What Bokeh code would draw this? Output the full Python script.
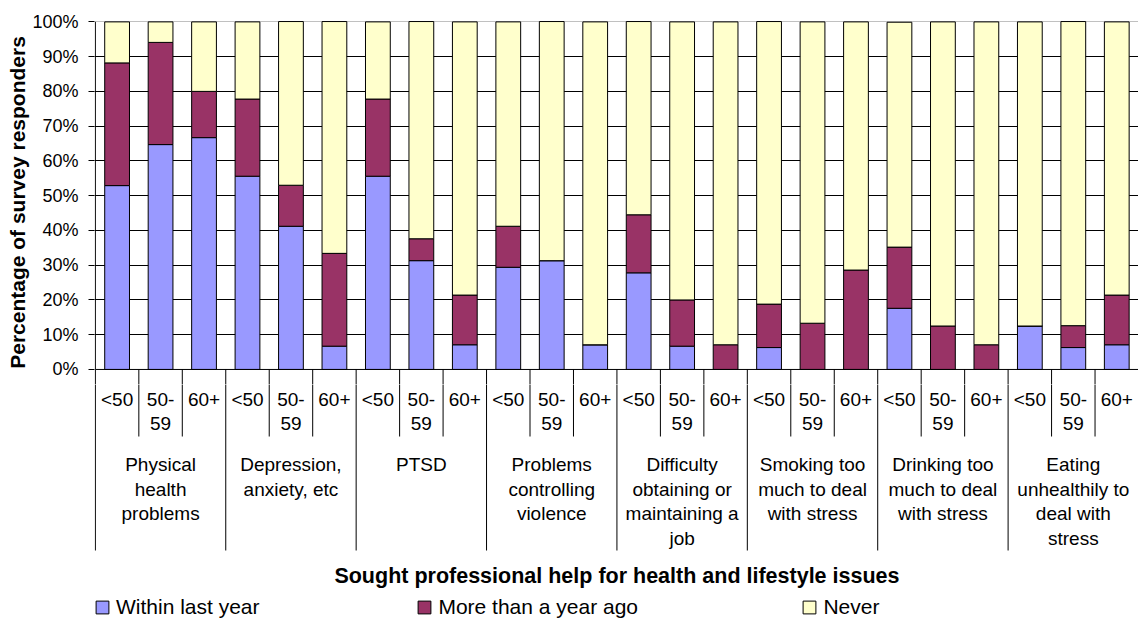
from bokeh.plotting import figure
from bokeh.layouts import column
from bokeh.models import (ColumnDataSource, Range1d, FixedTicker, PrintfTickFormatter,
                          Grid, Legend, LegendItem)
from bokeh.core.properties import value
from bokeh.embed import file_html
from bokeh.resources import INLINE

# ---------------- data ----------------
groups = [
    "Physical\nhealth\nproblems",
    "Depression,\nanxiety, etc",
    "PTSD",
    "Problems\ncontrolling\nviolence",
    "Difficulty\nobtaining or\nmaintaining a\njob",
    "Smoking too\nmuch to deal\nwith stress",
    "Drinking too\nmuch to deal\nwith stress",
    "Eating\nunhealthily to\ndeal with\nstress",
]
ages = ["<50", "50-59", "60+"]
series_names = ["Within last year", "More than a year ago", "Never"]
within = [52.9, 64.7, 66.7, 55.6, 41.2, 6.7, 55.6, 31.3, 7.1, 29.4, 31.3, 7.1,
          27.8, 6.7, 0.0, 6.3, 0.0, 0.0, 17.6, 0.0, 0.0, 12.5, 6.3, 7.1]
more = [35.3, 29.4, 13.3, 22.2, 11.8, 26.7, 22.2, 6.3, 14.3, 11.8, 0.0, 0.0,
        16.7, 13.3, 7.1, 12.5, 13.3, 28.6, 17.6, 12.5, 7.1, 0.0, 6.3, 14.3]
never = [11.8, 5.9, 20.0, 22.2, 47.1, 66.7, 22.2, 62.5, 78.6, 58.8, 68.8, 92.9,
         55.6, 80.0, 92.9, 81.3, 86.7, 71.4, 64.7, 87.5, 92.9, 87.5, 87.5, 78.6]
y_ticks = [0, 10, 20, 30, 40, 50, 60, 70, 80, 90, 100]
y_title = "Percentage of survey responders"
x_title = "Sought professional help for health and lifestyle issues"

# ---------------- style / layout ----------------
colors = ["#9999FF", "#993366", "#FFFFCC"]
FONT = "Liberation Sans"
W = 1138
LEFT = 94
TOP = 20
PX_PER_UNIT = 350 / 100.7        # vertical pixels per percentage point
EXT_PX = 14                      # frame extension below the 0% line
Y_TOP = 100.4
Y_BOT = -0.3 - EXT_PX / PX_PER_UNIT
TOP_FRAME_H = 350 + EXT_PX
TOP_H = TOP + TOP_FRAME_H
BOT_H = 619 - TOP_H
LEGEND_X = [0, 322.4, 707.4]     # legend entry offsets from the frame's left edge (px)
n_cat = len(groups) * len(ages)

x_range = Range1d(-0.02, n_cat)

# ---------------- top figure: bars ----------------
p = figure(width=W, height=TOP_H, x_range=x_range, y_range=Range1d(Y_BOT, Y_TOP),
           toolbar_location=None, output_backend="svg",
           min_border_left=LEFT, min_border_right=0, min_border_top=TOP, min_border_bottom=0)
p.xaxis.visible = False
p.outline_line_color = None

src = ColumnDataSource(dict(
    x=[i + 0.5 for i in range(n_cat)],
    within=within, more=more, never=never,
))

p.xgrid.visible = False
p.ygrid.ticker = FixedTicker(ticks=y_ticks[1:-1])
p.ygrid.grid_line_color = "black"
p.ygrid.grid_line_width = 1
top_grid = Grid(dimension=1, ticker=FixedTicker(ticks=[y_ticks[-1]]),
                grid_line_color="#c0c0c0", grid_line_width=1)
p.add_layout(top_grid)

p.vbar_stack(["within", "more", "never"], x="x", width=0.57, source=src,
             fill_color=colors, line_color="black", line_width=1)

# axis lines (value axis + category baseline)
p.segment(x0=[0, 0], y0=[0, 0], x1=[0, n_cat], y1=[100, 0], line_color="black", line_width=1)
# top part of the category separators (continued in the lower figure)
bx = list(range(n_cat + 1))
p.segment(x0=bx, y0=[0] * len(bx), x1=bx, y1=[Y_BOT] * len(bx), line_color="black", line_width=1)

yax = p.yaxis[0]
yax.ticker = FixedTicker(ticks=y_ticks)
yax.formatter = PrintfTickFormatter(format="%d%%")
yax.axis_line_color = None
yax.major_tick_in = 0
yax.major_tick_out = 6
yax.major_tick_line_color = "black"
yax.minor_tick_line_color = None
yax.major_label_text_font = FONT
yax.major_label_text_font_size = "18px"
yax.major_label_text_color = "black"
yax.major_label_standoff = 10
yax.axis_label = y_title
yax.axis_label_text_font = FONT
yax.axis_label_text_font_size = "21px"
yax.axis_label_text_font_style = "bold"
yax.axis_label_text_color = "black"
yax.axis_label_standoff = 0

# ---------------- bottom figure: category axis, title, legend ----------------
# y units = pixels below the 0% line
p2 = figure(width=W, height=BOT_H, x_range=x_range,
            y_range=Range1d(-(EXT_PX + BOT_H), -EXT_PX),
            toolbar_location=None, output_backend="svg",
            x_axis_location=None, y_axis_location=None,
            min_border_left=LEFT, min_border_right=0, min_border_top=0, min_border_bottom=0)
p2.grid.visible = False
p2.outline_line_color = None

sep_y1 = [-180 if i % len(ages) == 0 else -66 for i in bx]
p2.segment(x0=bx, y0=[-EXT_PX + 1] * len(bx), x1=bx, y1=sep_y1, line_color="black", line_width=1)

# age labels (wrapped at the hyphen)
a1x, a1t, a2x, a2t = [], [], [], []
for g in range(len(groups)):
    for j, a in enumerate(ages):
        xc = g * len(ages) + j + 0.5
        if "-" in a:
            head, tail = a.split("-", 1)
            a1x.append(xc); a1t.append(head + "-")
            a2x.append(xc); a2t.append(tail)
        else:
            a1x.append(xc); a1t.append(a)
p2.text(x=a1x, y=[-29] * len(a1x), text=a1t, text_align="center", text_baseline="middle",
        text_font=value(FONT), text_font_size="19px", text_color="black")
p2.text(x=a2x, y=[-53] * len(a2x), text=a2t, text_align="center", text_baseline="middle",
        text_font=value(FONT), text_font_size="19px", text_color="black")

# group labels
gx, gy, gt = [], [], []
for g, lab in enumerate(groups):
    for k, line in enumerate(lab.split("\n")):
        gx.append(g * len(ages) + len(ages) / 2)
        gy.append(-94 - 24.6 * k)
        gt.append(line)
p2.text(x=gx, y=gy, text=gt, text_align="center", text_baseline="middle",
        text_font=value(FONT), text_font_size="19px", text_color="black")

# x title (centred on the plot area)
p2.text(x=[n_cat / 2], y=[-205], text=[x_title], text_align="center", text_baseline="middle",
        text_font=value(FONT), text_font_size="21.5px", text_font_style="bold", text_color="black")

# legend: one entry per Legend so each sits where the original puts it
for name, c, lx in zip(series_names, colors, LEGEND_X):
    r = p2.quad(left=[-50], right=[-49], bottom=[-1001], top=[-1000],
                fill_color=c, line_color="black")
    lg = Legend(items=[LegendItem(label=name, renderers=[r])], location=(lx, 0),
                orientation="horizontal", glyph_width=16, glyph_height=16, label_standoff=6,
                padding=0, margin=0, border_line_color=None, background_fill_alpha=0,
                label_text_font=FONT, label_text_font_size="21px", label_text_color="black")
    p2.add_layout(lg)

layout = column(p, p2, spacing=0)
open("out.html", "w").write(file_html(layout, INLINE))
